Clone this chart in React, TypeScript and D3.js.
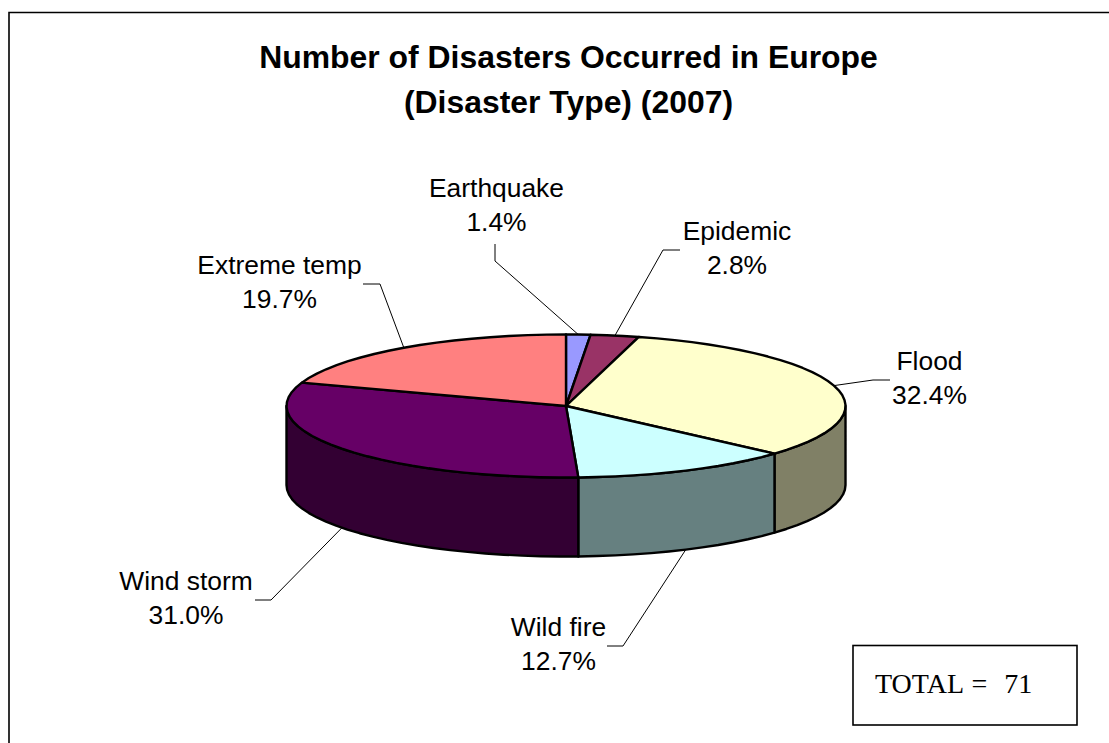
import React from "react";
import * as d3 from "d3";

// Share of disasters by type, clockwise from twelve o'clock
const categories = ["Earthquake", "Epidemic", "Flood", "Wild fire", "Wind storm", "Extreme temp"];
const shares = [1.4, 2.8, 32.4, 12.7, 31.0, 19.7];
const topColors = ["#9999FF", "#993366", "#FFFFCC", "#CCFFFF", "#660066", "#FF8080"];
const wallColors = ["#4C4C80", "#4C1933", "#808066", "#668080", "#330033", "#804040"];
const titleLines = ["Number of Disasters Occurred in Europe", "(Disaster Type) (2007)"];
const totalLabel = "TOTAL =  71";

const WIDTH = 1109;
const HEIGHT = 743;
const CX = 566;
const CY = 406;
const RX = 279.5;
const RY = 71.5;
const DEPTH = 79;
const LABEL_FONT = "'Liberation Sans', Arial, sans-serif";

// Projection of the unit disc on to the tilted ellipse
const sx = d3.scaleLinear().domain([-1, 1]).range([CX - RX, CX + RX]);
const sy = d3.scaleLinear().domain([-1, 1]).range([CY - RY, CY + RY]);
const px = (a: number) => sx(Math.sin(a));
const py = (a: number) => sy(-Math.cos(a));

const arcs = d3.pie<number>().sort(null).startAngle(0).endAngle(2 * Math.PI)(shares);

// Rim outlines are faceted, so sample them at a coarse step
const STEP = (4 * Math.PI) / 180;
function samples(a0: number, a1: number): number[] {
  const n = Math.max(1, Math.ceil((a1 - a0) / STEP));
  return d3.range(n + 1).map((i) => a0 + ((a1 - a0) * i) / n);
}

const line = d3.line<[number, number]>();

function topPath(a0: number, a1: number): string {
  const pts: [number, number][] = samples(a0, a1).map((a) => [px(a), py(a)]);
  return line([[CX, CY], ...pts]) + "Z";
}

function wallPath(a0: number, a1: number): string {
  const rim: [number, number][] = samples(a0, a1).map((a) => [px(a), py(a)]);
  const low: [number, number][] = rim.map(([x, y]) => [x, y + DEPTH] as [number, number]).reverse();
  return line([...rim, ...low]) + "Z";
}

// Leader line elbows and tails, and the baseline start of each two-line label
const leaderElbows: [number, number][] = [[495, 261], [663, 250], [873, 380], [623, 646], [271, 600], [380, 284]];
const leaderTails: [number, number][] = [[495, 244], [680, 250], [890, 380], [607, 646], [255, 600], [363, 284]];
const labelCenters: [number, number][] = [[496.5, 197], [737, 240], [929.5, 370], [558.5, 636], [186, 590], [279.5, 274]];

export default function App() {
  const walls = arcs
    .map((d, i) => ({
      i,
      a0: Math.max(d.startAngle, Math.PI / 2),
      a1: Math.min(d.endAngle, (3 * Math.PI) / 2),
    }))
    .filter((w) => w.a1 > w.a0);

  return (
    <svg
      width={WIDTH}
      height={HEIGHT}
      viewBox={`0 0 ${WIDTH} ${HEIGHT}`}
      style={{ position: "absolute", left: 0, top: 0, background: "#fff" }}
    >
      <path d={`M9,${HEIGHT}V12.5H${WIDTH}`} fill="none" stroke="#000" strokeWidth={1.6} />

      {titleLines.map((t, i) => (
        <text
          key={t}
          x={568.5}
          y={68 + i * 45}
          textAnchor="middle"
          fontFamily={LABEL_FONT}
          fontWeight="bold"
          fontSize={31.9}
          fill="#000"
        >
          {t}
        </text>
      ))}

      {walls.map((w) => (
        <path
          key={w.i}
          d={wallPath(w.a0, w.a1)}
          fill={wallColors[w.i]}
          stroke="#000"
          strokeWidth={2.4}
          strokeLinejoin="round"
        />
      ))}
      {arcs.map((d, i) => (
        <path
          key={i}
          d={topPath(d.startAngle, d.endAngle)}
          fill={topColors[i]}
          stroke="#000"
          strokeWidth={2.4}
          strokeLinejoin="round"
        />
      ))}

      {arcs.map((d, i) => {
        const mid = (d.startAngle + d.endAngle) / 2;
        const onWall = Math.cos(mid) < -0.1 && i !== 2;
        const anchor: [number, number] = [px(mid), py(mid) + (onWall ? DEPTH : 0)];
        return (
          <path
            key={i}
            d={line([anchor, leaderElbows[i], leaderTails[i]]) as string}
            fill="none"
            stroke="#000"
            strokeWidth={1}
          />
        );
      })}

      {categories.map((c, i) => (
        <text
          key={c}
          x={labelCenters[i][0]}
          y={labelCenters[i][1]}
          textAnchor="middle"
          fontFamily={LABEL_FONT}
          fontSize={26.4}
          fill="#000"
        >
          <tspan x={labelCenters[i][0]}>{c}</tspan>
          <tspan x={labelCenters[i][0]} dy={34}>{`${shares[i].toFixed(1)}%`}</tspan>
        </text>
      ))}

      <rect x={853} y={645.5} width={224} height={79.5} fill="#fff" stroke="#000" strokeWidth={1.6} />
      <text
        x={875}
        y={693}
        fontFamily="'Liberation Serif', 'Times New Roman', serif"
        fontSize={28}
        wordSpacing={1.5}
        fill="#000"
        style={{ whiteSpace: "pre" }}
      >
        {totalLabel}
      </text>
    </svg>
  );
}
